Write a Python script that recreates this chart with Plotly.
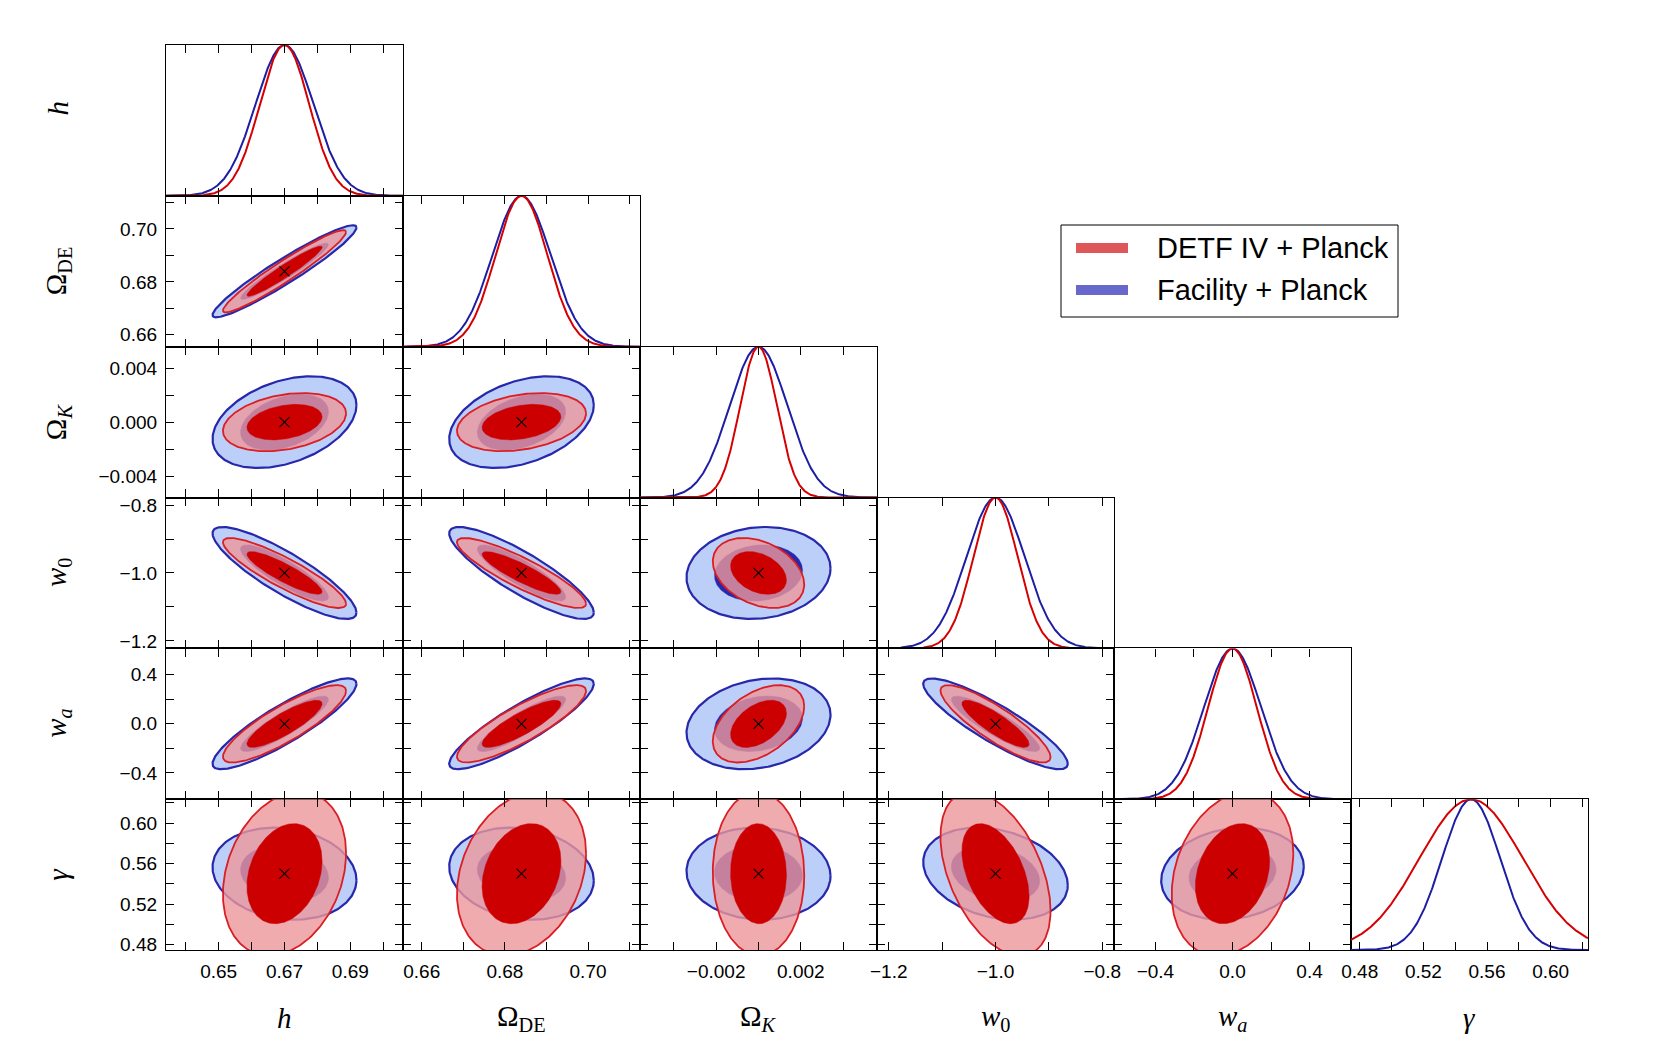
import numpy as np
import plotly.graph_objects as go

# parameters, in plotting order
params = ["h", "Omega_DE", "Omega_K", "w0", "wa", "gamma"]
axis_labels = ["<i>h</i>", "Ω<sub>DE</sub>", "Ω<sub><i>K</i></sub>",
               "<i>w</i><sub>0</sub>", "<i>w<sub>a</sub></i>", "<i>γ</i>"]
fiducial = [0.67, 0.684, 0.0, -1.0, 0.0, 0.55]

# marginal 1-sigma errors
sigma_facility = [0.0088, 0.0070, 0.00137, 0.0545, 0.149, 0.0183]
sigma_detf = [0.00753, 0.00625, 0.00087, 0.0415, 0.127, 0.0326]

# correlation coefficients, lower triangle (row param vs column param)
rho_facility = [
    [],
    [0.95],
    [0.37, 0.37],
    [-0.86, -0.86, 0.10],
    [0.88, 0.88, 0.20, -0.88],
    [-0.14, -0.15, -0.05, -0.25, 0.15],
]
rho_detf = [
    [],
    [0.955],
    [0.30, 0.30],
    [-0.88, -0.88, -0.33],
    [0.85, 0.85, 0.45, -0.86],
    [0.25, 0.25, -0.02, -0.45, 0.25],
]

axis_range = [[0.634, 0.706], [0.6555, 0.7125], [-0.0056, 0.0056],
              [-1.222, -0.778], [-0.615, 0.615], [0.4745, 0.6235]]

# all tick positions
tick_vals = [
    [0.64, 0.65, 0.66, 0.67, 0.68, 0.69, 0.70],
    [0.66, 0.67, 0.68, 0.69, 0.70, 0.71],
    [-0.004, -0.002, 0.0, 0.002, 0.004],
    [-1.2, -1.1, -1.0, -0.9, -0.8],
    [-0.4, -0.2, 0.0, 0.2, 0.4],
    [0.48, 0.50, 0.52, 0.54, 0.56, 0.58, 0.60, 0.62],
]
# labelled ticks on the bottom axes
x_label_vals = [
    [0.65, 0.67, 0.69],
    [0.66, 0.68, 0.70],
    [-0.002, 0.002],
    [-1.2, -1.0, -0.8],
    [-0.4, 0.0, 0.4],
    [0.48, 0.52, 0.56, 0.60],
]
x_label_text = [
    ["0.65", "0.67", "0.69"],
    ["0.66", "0.68", "0.70"],
    ["−0.002", "0.002"],
    ["−1.2", "−1.0", "−0.8"],
    ["−0.4", "0.0", "0.4"],
    ["0.48", "0.52", "0.56", "0.60"],
]
# labelled ticks on the left axes
y_label_vals = [
    [],
    [0.66, 0.68, 0.70],
    [-0.004, 0.0, 0.004],
    [-1.2, -1.0, -0.8],
    [-0.4, 0.0, 0.4],
    [0.48, 0.52, 0.56, 0.60],
]
y_label_text = [
    [],
    ["0.66", "0.68", "0.70"],
    ["−0.004", "0.000", "0.004"],
    ["−1.2", "−1.0", "−0.8"],
    ["−0.4", "0.0", "0.4"],
    ["0.48", "0.52", "0.56", "0.60"],
]

legend_names = ["DETF IV + Planck", "Facility + Planck"]

# styles
blue_line = "rgb(40,40,172)"
blue_fill2 = "rgb(187,207,248)"
blue_fill1 = "rgb(40,40,172)"
red_line = "rgb(218,30,36)"
red_fill2 = "rgba(236,150,155,0.8)"
red_fill1 = "rgb(204,0,0)"
diag_blue = "rgb(30,30,165)"
diag_red = "rgb(214,0,0)"

W, H = 1661, 1057
left, top, pw, ph = 166, 45, 237, 150.85
row_label_shift = [-12, 0, 0, 0, 0, 0]  # px, nudges the rotated row labels
k1, k2 = np.sqrt(2.30), np.sqrt(6.17)
t = np.linspace(0, 2 * np.pi, 241)

tick_look = dict(ticks="inside", ticklen=8, tickwidth=1.4, tickcolor="black")
axis_style = dict(showline=True, linecolor="black", linewidth=1.2, mirror="ticks",
                  showgrid=False, zeroline=False, ticklabelstandoff=4, automargin=False,
                  tickfont=dict(family="Liberation Sans, Arial", size=19, color="black"),
                  **tick_look)


def minor_of(all_vals, major):
    return [v for v in all_vals if all(abs(v - m) > 1e-9 for m in major)]


def ellipse(i, j, sig, rho, k):
    c = rho[i][j] * sig[i] * sig[j]
    cov = np.array([[sig[j] ** 2, c], [c, sig[i] ** 2]])
    L = np.linalg.cholesky(cov)
    pts = L @ np.vstack([np.cos(t), np.sin(t)]) * k
    return fiducial[j] + pts[0], fiducial[i] + pts[1]


fig = go.Figure()
layout_axes = {}
panel = 0
for i in range(6):
    for j in range(i + 1):
        panel += 1
        sx = "" if panel == 1 else str(panel)
        xa, ya = "x" + sx, "y" + sx
        x0, x1 = (left + pw * j) / W, (left + pw * (j + 1)) / W
        y1, y0 = 1 - (top + ph * i) / H, 1 - (top + ph * (i + 1)) / H

        layout_axes["xaxis" + sx] = dict(
            domain=[x0, x1], anchor=ya, range=axis_range[j],
            tickvals=x_label_vals[j], ticktext=x_label_text[j], showticklabels=(i == 5),
            minor=dict(tickvals=minor_of(tick_vals[j], x_label_vals[j]), showgrid=False, **tick_look),
            **axis_style)
        if i == j:
            layout_axes["yaxis" + sx] = dict(domain=[y0, y1], anchor=xa, range=[0, 1],
                                             ticks="", showticklabels=False, showline=True,
                                             mirror=True, linecolor="black", linewidth=1.2,
                                             showgrid=False, zeroline=False, automargin=False)
            xs = np.linspace(axis_range[j][0], axis_range[j][1], 400)
            for sig, col in [(sigma_facility, diag_blue), (sigma_detf, diag_red)]:
                fig.add_trace(go.Scatter(
                    x=xs, y=np.exp(-0.5 * ((xs - fiducial[j]) / sig[j]) ** 2),
                    mode="lines", line=dict(color=col, width=2),
                    xaxis=xa, yaxis=ya, showlegend=False, hoverinfo="skip"))
        else:
            layout_axes["yaxis" + sx] = dict(
                domain=[y0, y1], anchor=xa, range=axis_range[i],
                tickvals=y_label_vals[i], ticktext=y_label_text[i], showticklabels=(j == 0),
                minor=dict(tickvals=minor_of(tick_vals[i], y_label_vals[i]), showgrid=False, **tick_look),
                **axis_style)
            layers = [
                (sigma_facility, rho_facility, k2, blue_fill2, blue_line, 2.2),
                (sigma_facility, rho_facility, k1, blue_fill1, blue_fill1, 0.5),
                (sigma_detf, rho_detf, k2, red_fill2, red_line, 1.8),
                (sigma_detf, rho_detf, k1, red_fill1, red_fill1, 0.5),
            ]
            for sig, rho, k, fillc, linec, lw in layers:
                ex, ey = ellipse(i, j, sig, rho, k)
                fig.add_trace(go.Scatter(
                    x=ex, y=ey, mode="lines", fill="toself", fillcolor=fillc,
                    line=dict(color=linec, width=lw), xaxis=xa, yaxis=ya,
                    showlegend=False, hoverinfo="skip"))
            fig.add_trace(go.Scatter(
                x=[fiducial[j]], y=[fiducial[i]], mode="markers",
                marker=dict(symbol="x-thin", size=10, line=dict(width=1.1, color="black")),
                xaxis=xa, yaxis=ya, showlegend=False, hoverinfo="skip"))

annotations = []
label_font = dict(family="Liberation Serif, Times New Roman, serif", size=29, color="black")
for n in range(6):
    annotations.append(dict(x=(left + pw * (n + 0.5)) / W, y=1 - 1018 / H, xref="paper",
                            yref="paper", text=axis_labels[n], showarrow=False,
                            xanchor="center", yanchor="middle", font=label_font))
    annotations.append(dict(x=58 / W, y=1 - (top + ph * (n + 0.5) + row_label_shift[n]) / H,
                            xref="paper", yref="paper", text=axis_labels[n], showarrow=False,
                            textangle=-90, xanchor="center", yanchor="middle",
                            font=label_font))

# legend box drawn by hand
shapes = [dict(type="rect", xref="paper", yref="paper", x0=1061 / W, x1=1398 / W,
               y0=1 - 317 / H, y1=1 - 225 / H, line=dict(color="black", width=1),
               fillcolor="white")]
legend_colors = ["rgb(222,88,90)", "rgb(104,104,204)"]
legend_y = [248, 290]
for name, col, yy in zip(legend_names, legend_colors, legend_y):
    shapes.append(dict(type="rect", xref="paper", yref="paper", x0=1076 / W, x1=1128 / W,
                       y0=1 - (yy + 5) / H, y1=1 - (yy - 5) / H,
                       line=dict(width=0), fillcolor=col))
    annotations.append(dict(x=1155 / W, y=1 - yy / H, xref="paper", yref="paper",
                            text=name, showarrow=False, xanchor="left", yanchor="middle",
                            font=dict(family="Liberation Sans, Arial", size=29, color="black")))

fig.update_layout(
    width=W, height=H,
    margin=dict(l=0, r=0, t=0, b=0),
    paper_bgcolor="white", plot_bgcolor="white",
    showlegend=False,
    annotations=annotations,
    shapes=shapes,
    **layout_axes,
)

fig.write_html("out.html", config={"displayModeBar": False},
               post_script="document.body.style.margin='0';")
